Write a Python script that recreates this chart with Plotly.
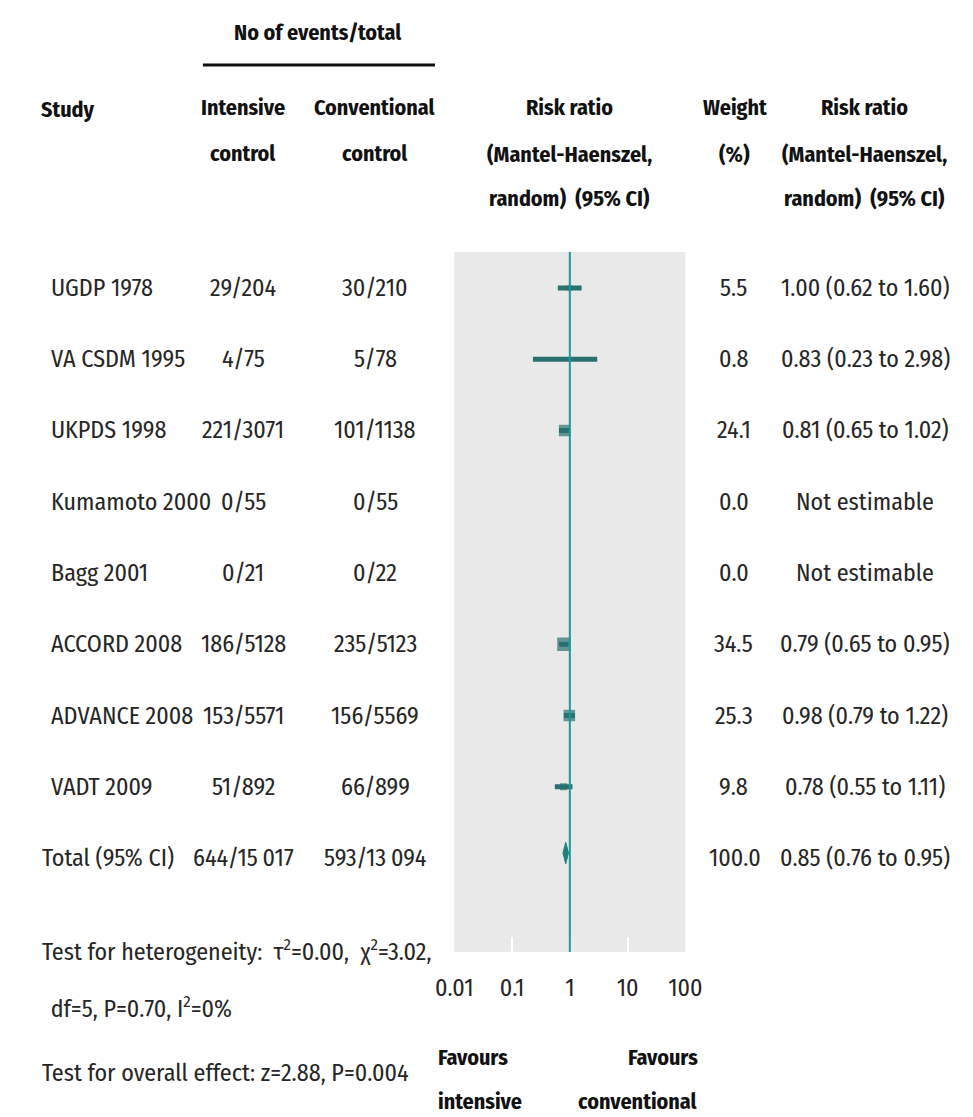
import plotly.graph_objects as go

# ---- data -------------------------------------------------------------
studies = ["UGDP 1978", "VA CSDM 1995", "UKPDS 1998", "Kumamoto 2000",
           "Bagg 2001", "ACCORD 2008", "ADVANCE 2008", "VADT 2009"]
intensive_events = [29, 4, 221, 0, 0, 186, 153, 51]
intensive_total = [204, 75, 3071, 55, 21, 5128, 5571, 892]
conventional_events = [30, 5, 101, 0, 0, 235, 156, 66]
conventional_total = [210, 78, 1138, 55, 22, 5123, 5569, 899]
weights = [5.5, 0.8, 24.1, 0.0, 0.0, 34.5, 25.3, 9.8]
risk_ratio = [1.00, 0.83, 0.81, None, None, 0.79, 0.98, 0.78]
ci_low = [0.62, 0.23, 0.65, None, None, 0.65, 0.79, 0.55]
ci_high = [1.60, 2.98, 1.02, None, None, 0.95, 1.22, 1.11]

total_label = "Total (95% CI)"
total_intensive = "644/15\u2009017"
total_conventional = "593/13\u2009094"
total_weight = 100.0
total_rr, total_low, total_high = 0.85, 0.76, 0.95

tick_values = [0.01, 0.1, 1, 10, 100]
tick_labels = ["0.01", "0.1", "1", "10", "100"]

footnotes = [
    "Test for heterogeneity:  \u03c4<sup>2</sup>=0.00,  \u03c7<sup>2</sup>=3.02,",
    " df=5, P=0.70, I<sup>2</sup>=0%",
    "Test for overall effect: z=2.88, P=0.004",
]

# ---- styling ----------------------------------------------------------
W, H = 973, 1117
FONT = "Fira Sans Condensed, Roboto Condensed, DejaVu Sans Condensed, sans-serif"
TXT = "#262626"
FS = 24          # body text
FS_HEAD = 22     # bold headings
MARK = "#2a7070"
REF = "#1c9a9a"


def px(x):
    return x / W


def py(y):
    return 1 - y / H


plot_top, plot_bottom = 252, 952
row0, row_step = 288, 71.25
y_top = (plot_top - row0) / row_step
y_bottom = (plot_bottom - row0) / row_step

fig = go.Figure()

# confidence interval segments
seg_x, seg_y = [], []
for i, (lo, hi) in enumerate(zip(ci_low, ci_high)):
    if lo is None:
        continue
    seg_x += [lo, hi, None]
    seg_y += [i, i, None]
fig.add_trace(go.Scatter(x=seg_x, y=seg_y, mode="lines",
                         line=dict(color=MARK, width=5),
                         hoverinfo="skip", showlegend=False))

# point estimates sized by weight
pts = [(rr, i, w) for i, (rr, w) in enumerate(zip(risk_ratio, weights)) if rr is not None]
fig.add_trace(go.Scatter(
    x=[p[0] for p in pts], y=[p[1] for p in pts], mode="markers",
    marker=dict(symbol="square", color=MARK,
                size=[2.3 * w ** 0.5 for _, _, w in pts], line=dict(width=0)),
    showlegend=False))

# pooled estimate diamond
total_row = len(studies)
half = 0.15
yc = total_row - 0.07
fig.add_trace(go.Scatter(
    x=[total_low, total_rr, total_high, total_rr, total_low],
    y=[yc, yc - half, yc, yc + half, yc],
    mode="lines", fill="toself", fillcolor="#1f8080",
    line=dict(color="#1f8080", width=1), showlegend=False))

# line of no effect
fig.add_shape(type="line", xref="x", yref="paper", x0=1, x1=1,
              y0=py(plot_bottom), y1=py(plot_top),
              line=dict(color=REF, width=2), layer="above")

ann = []


def text(x, y, s, anchor="center", bold=False, yref="paper", size=None):
    if size is None:
        size = FS_HEAD if bold else FS
    ann.append(dict(
        x=px(x), y=y if yref == "y" else py(y), xref="paper", yref=yref,
        text=f"<b>{s}</b>" if bold else s, showarrow=False,
        xanchor=anchor, yanchor="middle",
        font=dict(family=FONT, size=size, color="#111111" if bold else TXT)))


# header
text(311, 33, "No of events/total", bold=True)
text(21, 110, "Study", anchor="left", bold=True)
for y, a, b in [(108, "Intensive", "Conventional"), (153, "control", "control")]:
    text(233, y, a, bold=True)
    text(370, y, b, bold=True)
for y, s in [(108, "Risk ratio"), (155, "(Mantel-Haenszel,"), (199, "random)  (95% CI)")]:
    text(572, y, s, bold=True)
    text(878, y, s, bold=True)
text(743, 108, "Weight", bold=True)
text(743, 155, "(%)", bold=True)

fig.add_shape(type="line", xref="paper", yref="paper",
              x0=px(191), x1=px(432), y0=py(65), y1=py(65),
              line=dict(color="#111111", width=3))

# study rows
for i, name in enumerate(studies):
    text(31, i, name, anchor="left", yref="y")
    text(233, i, f"{intensive_events[i]}/{intensive_total[i]}", yref="y")
    text(370, i, f"{conventional_events[i]}/{conventional_total[i]}", yref="y")
    text(742, i, f"{weights[i]:.1f}", yref="y")
    if risk_ratio[i] is None:
        rr_txt = "Not estimable"
    else:
        rr_txt = f"{risk_ratio[i]:.2f} ({ci_low[i]:.2f} to {ci_high[i]:.2f})"
    text(879, i, rr_txt, yref="y")

# total row
text(22, total_row, total_label, anchor="left", yref="y")
text(233, total_row, total_intensive, yref="y")
text(370, total_row, total_conventional, yref="y")
text(744, total_row, f"{total_weight:.1f}", yref="y")
text(879, total_row, f"{total_rr:.2f} ({total_low:.2f} to {total_high:.2f})", yref="y")

# footnotes
text(22, 950, footnotes[0], anchor="left")
text(25, 1007, footnotes[1], anchor="left")
text(22, 1073, footnotes[2], anchor="left")

# favours labels
text(433, 1057, "Favours", anchor="left", bold=True)
text(433, 1101, "intensive", anchor="left", bold=True)
text(707, 1057, "Favours", anchor="right", bold=True)
text(707, 1101, "conventional", anchor="right", bold=True)

fig.update_layout(
    width=W, height=H, margin=dict(l=0, r=0, t=0, b=0),
    paper_bgcolor="white", plot_bgcolor="#e9e9e9",
    annotations=ann, showlegend=False,
    xaxis=dict(type="log", range=[-2, 2], domain=[px(452), px(692)],
               tickvals=tick_values, ticktext=tick_labels,
               ticks="inside", ticklen=15, tickwidth=2, tickcolor="white",
               showgrid=False, zeroline=False, showline=False,
               ticklabelstandoff=19,
               tickfont=dict(family=FONT, size=FS, color=TXT)),
    yaxis=dict(range=[y_bottom, y_top], domain=[py(plot_bottom), py(plot_top)],
               showgrid=False, zeroline=False, showticklabels=False,
               showline=False, ticks=""),
)

fig.write_html("out.html")
